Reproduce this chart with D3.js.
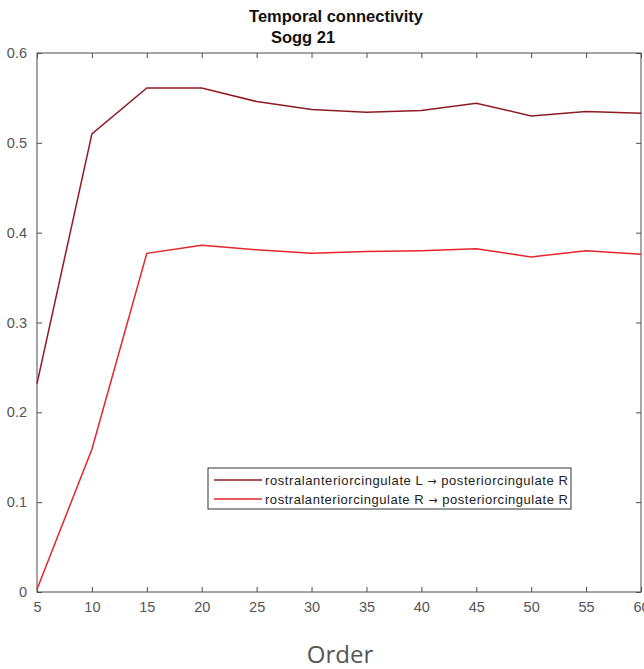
<!DOCTYPE html>
<html>
<head>
<meta charset="utf-8">
<script src="https://cdn.jsdelivr.net/npm/d3@7"></script>
<style>
  body { margin: 0; background: #fff; }
  svg { display: block; }
</style>
</head>
<body>
<div id="chart"></div>
<script>
// Data
var orders = [5, 10, 15, 20, 25, 30, 35, 40, 45, 50, 55, 60];
var leftToRight = [0.232, 0.510, 0.561, 0.561, 0.546, 0.537, 0.534, 0.536, 0.544, 0.530, 0.535, 0.533];
var rightToRight = [0.003, 0.159, 0.377, 0.386, 0.381, 0.377, 0.379, 0.380, 0.382, 0.373, 0.380, 0.376];
var seriesFrom = ["rostralanteriorcingulate L ", "rostralanteriorcingulate R "];
var seriesTo = [" posteriorcingulate R", " posteriorcingulate R"];
var seriesColors = ["#8e1b24", "#e3262d"];
var yTicks = [0, 0.1, 0.2, 0.3, 0.4, 0.5, 0.6];
var xTicks = orders;

var svgWidth = 644;
var svgHeight = 669;

var margin = { top: 53, right: 3, bottom: 77, left: 37 };
var width = svgWidth - margin.left - margin.right;
var height = svgHeight - margin.top - margin.bottom;

var svg = d3.select("#chart")
  .append("svg")
  .attr("width", svgWidth)
  .attr("height", svgHeight);

var chartGroup = svg.append("g")
  .attr("transform", `translate(${margin.left}, ${margin.top})`);

var xScale = d3.scaleLinear().domain([5, 60]).range([0, width]);
var yScale = d3.scaleLinear().domain([0, 0.6]).range([height, 0]);

var axisColor = "#4d4d4d";
var tickFont = "Liberation Sans, Arial, sans-serif";

// box
chartGroup.append("rect")
  .attr("x", 0).attr("y", 0)
  .attr("width", width).attr("height", height)
  .attr("fill", "none")
  .attr("stroke", axisColor)
  .attr("stroke-width", 1);

// bottom axis (ticks inward)
var bottomAxis = d3.axisBottom(xScale)
  .tickValues(xTicks)
  .tickSizeInner(-5)
  .tickSizeOuter(0)
  .tickPadding(10)
  .tickFormat(d3.format("d"));

var xAxis = chartGroup.append("g")
  .attr("transform", `translate(0, ${height})`)
  .call(bottomAxis);

// top axis ticks
var topAxis = d3.axisTop(xScale)
  .tickValues(xTicks)
  .tickSizeInner(-5)
  .tickSizeOuter(0)
  .tickFormat("");
chartGroup.append("g").call(topAxis);

// left axis
var leftAxis = d3.axisLeft(yScale)
  .tickValues(yTicks)
  .tickSizeInner(-5)
  .tickSizeOuter(0)
  .tickPadding(10)
  .tickFormat(d => d === 0 ? "0" : d3.format(".1f")(d));

var yAxis = chartGroup.append("g").call(leftAxis);

// right axis ticks
var rightAxis = d3.axisRight(yScale)
  .tickValues(yTicks)
  .tickSizeInner(-5)
  .tickSizeOuter(0)
  .tickFormat("");
chartGroup.append("g")
  .attr("transform", `translate(${width}, 0)`)
  .call(rightAxis);

chartGroup.selectAll(".domain").remove();
chartGroup.selectAll(".tick line").attr("stroke", axisColor);
chartGroup.selectAll(".tick text")
  .attr("fill", "#555")
  .attr("font-family", tickFont)
  .attr("font-size", "14.5px");

// lines
var line = d3.line()
  .x((d, i) => xScale(orders[i]))
  .y(d => yScale(d));

[leftToRight, rightToRight].forEach(function(values, i) {
  chartGroup.append("path")
    .datum(values)
    .attr("fill", "none")
    .attr("stroke", seriesColors[i])
    .attr("stroke-width", 1.5)
    .attr("d", line);
});

// legend
var legend = svg.append("g")
  .attr("transform", "translate(208, 468)");

legend.append("rect")
  .attr("width", 363)
  .attr("height", 41)
  .attr("fill", "#fff")
  .attr("stroke", "#333")
  .attr("stroke-width", 1);

seriesFrom.forEach(function(name, i) {
  var yPos = 12 + i * 19;
  legend.append("line")
    .attr("x1", 6).attr("x2", 54)
    .attr("y1", yPos).attr("y2", yPos)
    .attr("stroke", seriesColors[i])
    .attr("stroke-width", 1.5);
  var t = legend.append("text")
    .attr("x", 57)
    .attr("y", yPos)
    .attr("dy", "0.36em")
    .attr("font-family", tickFont)
    .attr("font-size", "13px")
    .attr("fill", "#222")
    .attr("textLength", 303)
    .attr("lengthAdjust", "spacing");
  t.append("tspan").text(name);
  t.append("tspan").attr("font-family", "DejaVu Sans").attr("font-size", "11px").text("\u2192");
  t.append("tspan").text(seriesTo[i]);
});

// title
svg.append("text")
  .attr("x", 336)
  .attr("y", 22)
  .attr("text-anchor", "middle")
  .attr("font-family", tickFont)
  .attr("font-weight", "bold")
  .attr("font-size", "16.5px")
  .attr("fill", "#111")
  .text("Temporal connectivity");

svg.append("text")
  .attr("x", 303)
  .attr("y", 43)
  .attr("text-anchor", "middle")
  .attr("font-family", tickFont)
  .attr("font-weight", "bold")
  .attr("font-size", "16.5px")
  .attr("fill", "#111")
  .text("Sogg 21");

// x axis title
svg.append("text")
  .attr("x", 340)
  .attr("y", 663)
  .attr("text-anchor", "middle")
  .attr("font-family", "Open Sans, sans-serif")
  .attr("font-size", "24px")
  .attr("fill", "#555")
  .text("Order");
</script>
</body>
</html>
